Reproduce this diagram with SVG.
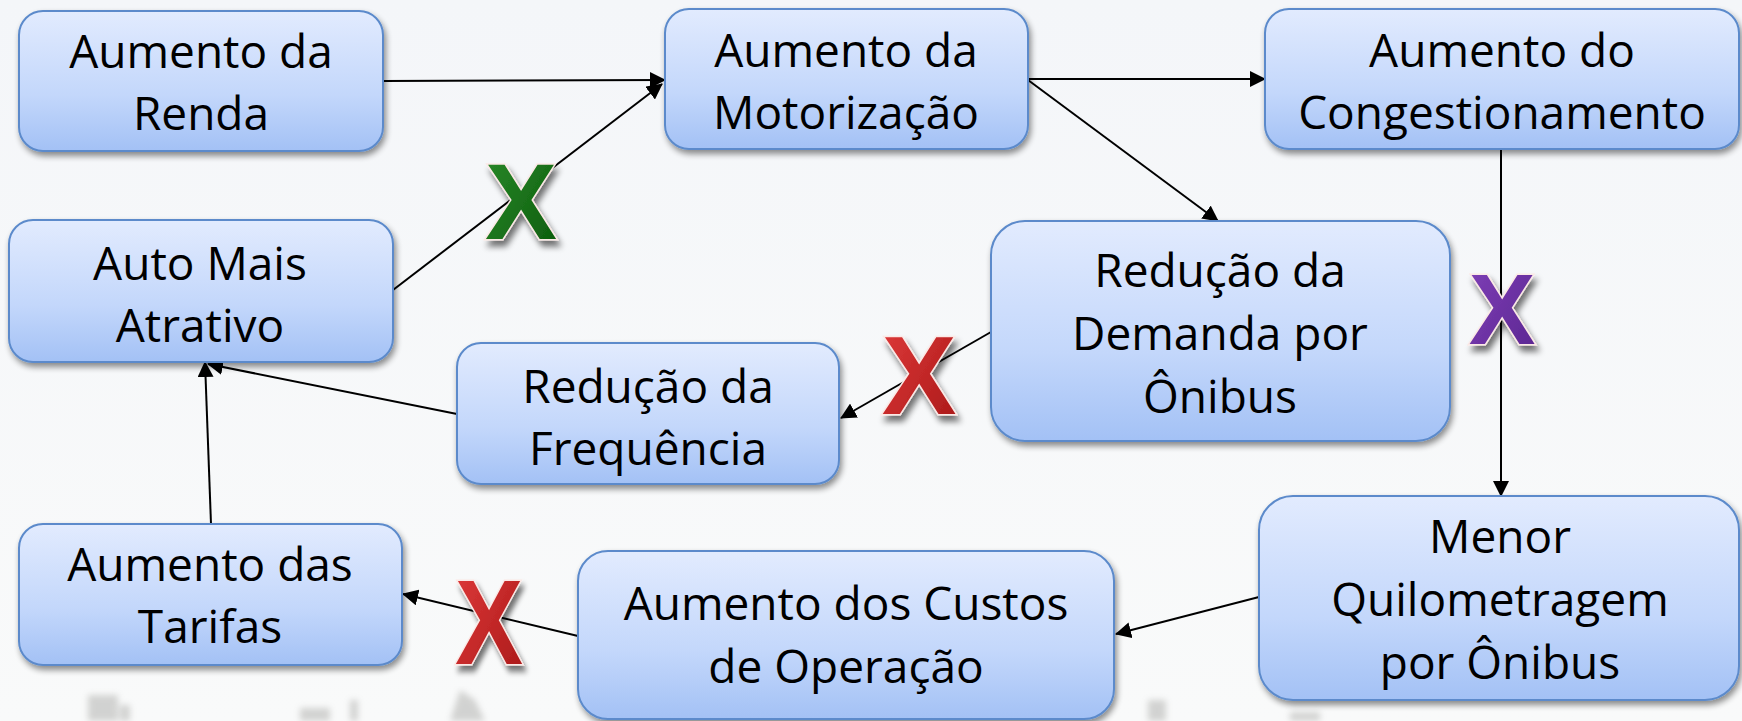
<svg xmlns="http://www.w3.org/2000/svg" width="1742" height="721" viewBox="0 0 1742 721">
<defs>
<linearGradient id="boxg" x1="0" y1="0" x2="0" y2="1">
<stop offset="0" stop-color="#e2ebfe"/>
<stop offset="0.6" stop-color="#c3d7fb"/>
<stop offset="1" stop-color="#a3c1f5"/>
</linearGradient>
<linearGradient id="bgg" x1="0" y1="0" x2="0" y2="1">
<stop offset="0" stop-color="#f4f6f9"/>
<stop offset="1" stop-color="#f9fafa"/>
</linearGradient>
<linearGradient id="gX" x1="0" y1="0" x2="1" y2="1">
<stop offset="0" stop-color="#2a8a2a"/>
<stop offset="1" stop-color="#0b5a0b"/>
</linearGradient>
<linearGradient id="rX" x1="0" y1="0" x2="1" y2="1">
<stop offset="0" stop-color="#e03a3a"/>
<stop offset="1" stop-color="#a81818"/>
</linearGradient>
<linearGradient id="pX" x1="0" y1="0" x2="1" y2="1">
<stop offset="0" stop-color="#8040b8"/>
<stop offset="1" stop-color="#5a2590"/>
</linearGradient>
<filter id="sh" x="-10%" y="-10%" width="125%" height="130%">
<feGaussianBlur in="SourceAlpha" stdDeviation="3"/>
<feOffset dx="2" dy="4"/>
<feComponentTransfer><feFuncA type="linear" slope="0.45"/></feComponentTransfer>
<feMerge><feMergeNode/><feMergeNode in="SourceGraphic"/></feMerge>
</filter>
<filter id="xsh" x="-30%" y="-30%" width="170%" height="170%">
<feGaussianBlur in="SourceAlpha" stdDeviation="3"/>
<feOffset dx="3" dy="6"/>
<feComponentTransfer><feFuncA type="linear" slope="0.55"/></feComponentTransfer>
<feMerge><feMergeNode/><feMergeNode in="SourceGraphic"/></feMerge>
</filter>
<filter id="blur"><feGaussianBlur stdDeviation="3"/></filter>
<marker id="ah" viewBox="0 0 16 16" refX="15" refY="8" markerWidth="16" markerHeight="16" markerUnits="userSpaceOnUse" orient="auto">
<path d="M0,0 L16,8 L0,16 Z" fill="#000"/>
</marker>
</defs>
<style>
.box{fill:url(#boxg);stroke:#5b8acb;stroke-width:2;filter:url(#sh)}
.lbl{font-family:"Open Sans","Noto Sans","Liberation Sans",sans-serif;font-size:46px;fill:#000;text-anchor:middle}
.con{stroke:#000;stroke-width:2;fill:none;marker-end:url(#ah)}
.xm{font-family:"Liberation Sans","DejaVu Sans",sans-serif;font-weight:bold;text-anchor:middle;stroke:#fbe9e6;stroke-width:3;paint-order:stroke;filter:url(#xsh)}
</style>
<rect width="1742" height="721" fill="url(#bgg)"/>
<g id="background" opacity="0.35" filter="url(#blur)" fill="#8a8a86">
<rect x="88" y="695" width="30" height="26"/>
<rect x="120" y="705" width="10" height="16"/>
<rect x="300" y="708" width="30" height="13"/>
<rect x="350" y="700" width="8" height="21"/>
<path d="M450,721 L460,690 L475,700 L485,721 Z"/>
<rect x="1148" y="700" width="18" height="21"/>
<rect x="1290" y="712" width="30" height="9"/>
</g>
<g id="connectors">
<line class="con" x1="383" y1="81" x2="665" y2="80"/>
<line class="con" x1="393" y1="290" x2="662" y2="84"/>
<line class="con" x1="1028" y1="79" x2="1265" y2="79"/>
<line class="con" x1="1028" y1="80" x2="1218" y2="221"/>
<line class="con" x1="991" y1="332" x2="841" y2="418"/>
<line class="con" x1="1501" y1="149" x2="1501" y2="496"/>
<line class="con" x1="1259" y1="597" x2="1116" y2="634"/>
<line class="con" x1="578" y1="636" x2="403" y2="594"/>
<line class="con" x1="211" y1="524" x2="205" y2="362"/>
<line class="con" x1="457" y1="414" x2="208" y2="364"/>
</g>
<g id="node-renda"><rect class="box" x="19" y="11" width="364" height="140" rx="24"/>
<text class="lbl" x="201" y="68">Aumento da</text><text class="lbl" x="201" y="130">Renda</text></g>
<g id="node-motorizacao"><rect class="box" x="665" y="9" width="363" height="140" rx="24"/>
<text class="lbl" x="846" y="67">Aumento da</text><text class="lbl" x="846" y="129">Motorização</text></g>
<g id="node-congestionamento"><rect class="box" x="1265" y="9" width="474" height="140" rx="24"/>
<text class="lbl" x="1502" y="67">Aumento do</text><text class="lbl" x="1502" y="129">Congestionamento</text></g>
<g id="node-auto"><rect class="box" x="9" y="220" width="384" height="142" rx="24"/>
<text class="lbl" x="200" y="280">Auto Mais</text><text class="lbl" x="200" y="342">Atrativo</text></g>
<g id="node-demanda"><rect class="box" x="991" y="221" width="459" height="220" rx="34"/>
<text class="lbl" x="1220" y="287">Redução da</text><text class="lbl" x="1220" y="350">Demanda por</text><text class="lbl" x="1220" y="413">Ônibus</text></g>
<g id="node-frequencia"><rect class="box" x="457" y="343" width="382" height="141" rx="24"/>
<text class="lbl" x="648" y="403">Redução da</text><text class="lbl" x="648" y="465">Frequência</text></g>
<g id="node-quilometragem"><rect class="box" x="1259" y="496" width="480" height="204" rx="34"/>
<text class="lbl" x="1500" y="553">Menor</text><text class="lbl" x="1500" y="616">Quilometragem</text><text class="lbl" x="1500" y="679">por Ônibus</text></g>
<g id="node-tarifas"><rect class="box" x="19" y="524" width="383" height="141" rx="24"/>
<text class="lbl" x="210" y="581">Aumento das</text><text class="lbl" x="210" y="643">Tarifas</text></g>
<g id="node-custos"><rect class="box" x="578" y="551" width="536" height="168" rx="30"/>
<text class="lbl" x="846" y="620">Aumento dos Custos</text><text class="lbl" x="846" y="683">de Operação</text></g>
<g id="marks">
<text class="xm" x="521" y="239" font-size="108" fill="url(#gX)">X</text>
<text class="xm" x="919" y="414" font-size="112" fill="url(#rX)">X</text>
<text class="xm" x="1502" y="344" font-size="100" fill="url(#pX)">X</text>
<text class="xm" transform="translate(489,664) scale(0.85,1)" x="0" y="0" font-size="120" fill="url(#rX)">X</text>
</g>
</svg>
